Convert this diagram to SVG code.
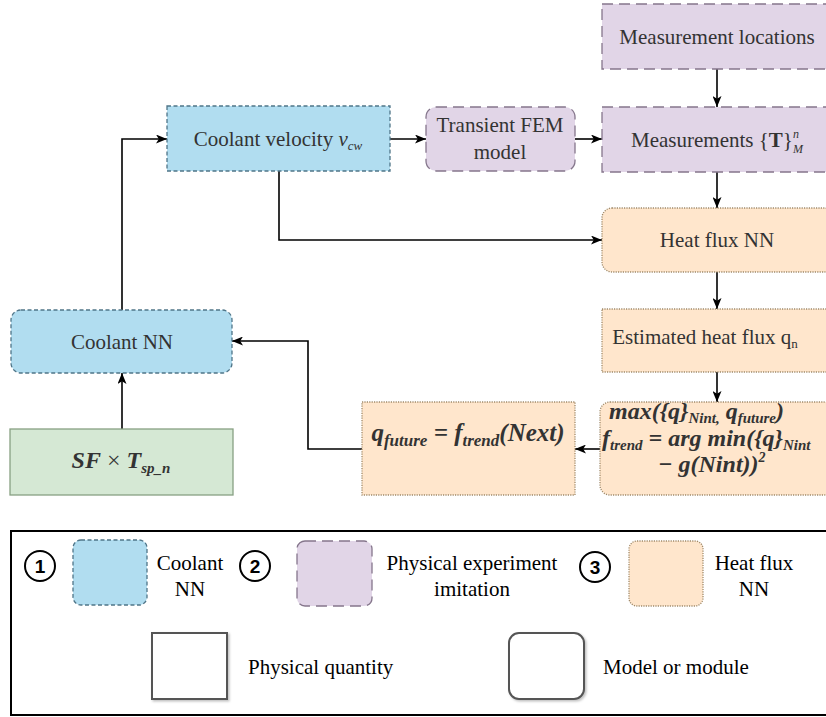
<svg xmlns="http://www.w3.org/2000/svg" width="826" height="717" viewBox="0 0 826 717">
<defs>
<marker id="arr" markerWidth="11" markerHeight="9" refX="11" refY="4.5" orient="auto" markerUnits="userSpaceOnUse"><path d="M0,0 L11,4.5 L0,9 L2.8,4.5 z" fill="#000"/></marker>
<filter id="sh" x="-10%" y="-10%" width="130%" height="130%"><feDropShadow dx="1.5" dy="1.5" stdDeviation="1" flood-color="#000" flood-opacity="0.25"/></filter>
</defs>
<style>
.t{font-family:"Liberation Serif","Times New Roman",serif;font-size:21px;fill:#333;text-anchor:middle}
.m{font-family:"Liberation Serif","Times New Roman",serif;font-style:italic;font-weight:bold;fill:#333}
.lg{font-family:"Liberation Serif","Times New Roman",serif;font-size:21px;fill:#000}
.num{font-family:"Liberation Sans",Arial,sans-serif;font-size:19px;font-weight:bold;fill:#000;text-anchor:middle}
.blue{fill:#b1ddf0;stroke:#4f7588;stroke-width:1.3;stroke-dasharray:4 2.5}
.purple{fill:#e1d5e7;stroke:#85768c;stroke-width:1.3;stroke-dasharray:11 6}
.orange{fill:#ffe6cc;stroke:#a08a6a;stroke-width:1.3;stroke-dasharray:1.2 1.2}
.green{fill:#d5e8d4;stroke:#88a083;stroke-width:1.3}
.c{fill:none;stroke:#000;stroke-width:1.6;marker-end:url(#arr)}
.circ{fill:#fff;stroke:#000;stroke-width:2}
</style>

<g id="connectors">
<path class="c" d="M717,69 L717,107"/>
<path class="c" d="M390,139 L426,139"/>
<path class="c" d="M575,139 L602,139"/>
<path class="c" d="M717,172 L717,208"/>
<path class="c" d="M279,171 L279,240 L602,240"/>
<path class="c" d="M717,272 L717,309"/>
<path class="c" d="M717,372 L717,402"/>
<path class="c" d="M600,449 L575,449"/>
<path class="c" d="M362,449 L308,449 L308,341 L232,341"/>
<path class="c" d="M122,429 L122,373"/>
<path class="c" d="M122,310 L122,139 L167,139"/>
</g>

<g id="measurement-locations">
<rect class="purple" x="602" y="4" width="232" height="65"/>
<text class="t" x="717" y="44">Measurement locations</text>
</g>

<g id="coolant-velocity">
<rect class="blue" x="167" y="106" width="223" height="65"/>
<text class="t" x="278" y="146">Coolant velocity <tspan font-style="italic">v</tspan><tspan font-style="italic" font-size="13" dy="4">cw</tspan></text>
</g>

<g id="fem-model">
<rect class="purple" x="426" y="107" width="149" height="64" rx="10"/>
<text class="t" x="500" y="132">Transient FEM</text>
<text class="t" x="500" y="159">model</text>
</g>

<g id="measurements">
<rect class="purple" x="602" y="107" width="232" height="65"/>
<text class="t" x="717" y="147">Measurements {<tspan font-weight="bold">T</tspan>}<tspan font-style="italic" font-size="12" dy="-9">n</tspan><tspan font-style="italic" font-size="12" dx="-6" dy="15">M</tspan></text>
</g>

<g id="heat-flux-nn">
<rect class="orange" x="602" y="208" width="232" height="64" rx="10"/>
<text class="t" x="717" y="247">Heat flux NN</text>
</g>

<g id="estimated-heat-flux">
<rect class="orange" x="602" y="309" width="232" height="63"/>
<text class="t" x="705" y="344">Estimated heat flux q<tspan font-size="13" dy="4">n</tspan></text>
</g>

<g id="trend-formula">
<rect class="orange" x="600" y="402" width="234" height="93" rx="10"/>
<text class="m" x="609" y="419" font-size="24">max({q}<tspan font-size="15" dy="4">Nint,</tspan><tspan dy="-4"> q</tspan><tspan font-size="15" dy="4">future</tspan><tspan dy="-4">)</tspan></text>
<text class="m" x="602" y="446" font-size="24">f<tspan font-size="15" dy="4">trend</tspan><tspan dy="-4"> = arg min({q}</tspan><tspan font-size="15" dy="4">Nint</tspan></text>
<text class="m" x="658" y="472" font-size="24">− g(Nint))<tspan font-size="14" dy="-10">2</tspan></text>
</g>

<g id="q-future">
<rect class="orange" x="362" y="402" width="213" height="93"/>
<text class="m" x="468" y="441" font-size="25" text-anchor="middle">q<tspan font-size="17" dy="5">future</tspan><tspan dy="-5"> = f</tspan><tspan font-size="17" dy="5">trend</tspan><tspan dy="-5">(Next)</tspan></text>
</g>

<g id="coolant-nn">
<rect class="blue" x="11" y="310" width="221" height="63" rx="10"/>
<text class="t" x="122" y="349">Coolant NN</text>
</g>

<g id="sf-tsp">
<rect class="green" x="10" y="429" width="223" height="66"/>
<text class="m" x="121" y="468" font-size="24" text-anchor="middle">SF<tspan font-style="normal" font-weight="normal"> × </tspan>T<tspan font-size="15" dy="5">sp_n</tspan></text>
</g>

<g id="legend">
<rect x="11" y="531" width="830" height="184" fill="#fff" stroke="#000" stroke-width="2"/>
<circle class="circ" cx="40" cy="566" r="15"/>
<text class="num" x="40" y="573">1</text>
<rect class="blue" x="73" y="540" width="74" height="65" rx="8"/>
<text class="lg" x="190" y="570" text-anchor="middle">Coolant</text>
<text class="lg" x="190" y="596" text-anchor="middle">NN</text>
<circle class="circ" cx="255" cy="566" r="15"/>
<text class="num" x="255" y="573">2</text>
<rect class="purple" x="297" y="541" width="75" height="65" rx="8"/>
<text class="lg" x="472" y="570" text-anchor="middle">Physical experiment</text>
<text class="lg" x="472" y="596" text-anchor="middle">imitation</text>
<circle class="circ" cx="595" cy="567" r="15"/>
<text class="num" x="595" y="574">3</text>
<rect class="orange" x="629" y="541" width="74" height="65" rx="8"/>
<text class="lg" x="754" y="570" text-anchor="middle">Heat flux</text>
<text class="lg" x="754" y="596" text-anchor="middle">NN</text>
<rect x="152" y="633" width="75" height="66" fill="#fff" stroke="#555" stroke-width="2" filter="url(#sh)"/>
<text class="lg" x="248" y="674">Physical quantity</text>
<rect x="509" y="633" width="75" height="66" rx="10" fill="#fff" stroke="#555" stroke-width="2" filter="url(#sh)"/>
<text class="lg" x="603" y="674">Model or module</text>
</g>
</svg>
